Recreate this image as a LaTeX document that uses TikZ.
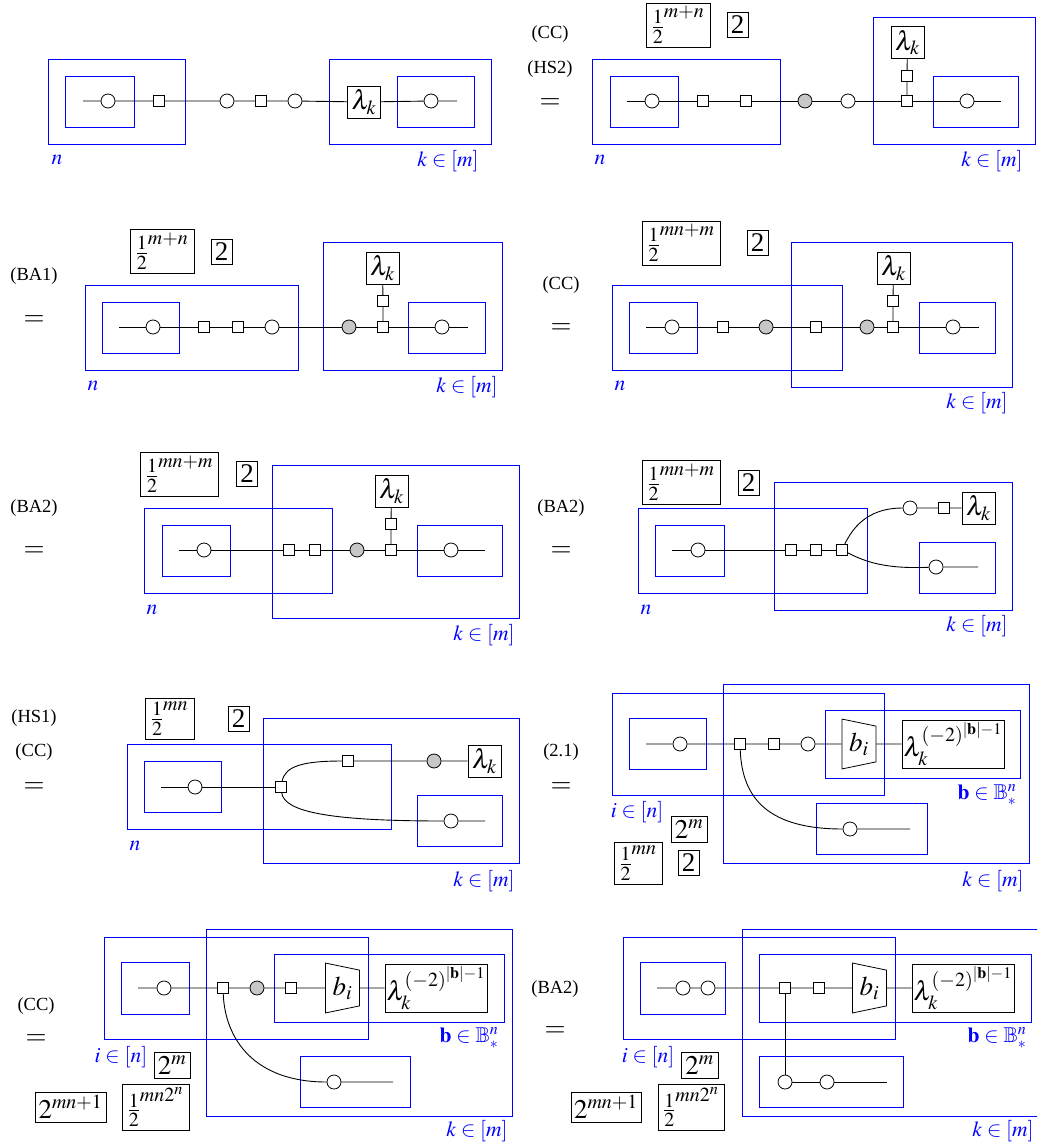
\documentclass[tikz,border=0pt]{standalone}
\usepackage{amsfonts,amssymb,amsmath}
\usepackage{mathptmx}
\usepackage{fontspec}
\setmainfont{Liberation Serif}
\usepackage{xcolor}
\usepackage{tikz}
\usetikzlibrary{shapes.geometric}
\tikzset{
plate/.style={draw=blue,line width=0.9pt},
wire/.style={draw=black,line width=0.9pt},
spider/.style={shape=circle,draw,fill=white,line width=0.8pt,minimum size=14pt,inner sep=0pt},
greyspider/.style={spider,fill=black!22},
tensor/.style={shape=rectangle,draw,fill=white,line width=0.8pt,minimum size=10.5pt,inner sep=0pt},
scalar/.style={shape=rectangle,draw,fill=white,line width=0.8pt,inner sep=0pt,font=\fontsize{27}{30}\selectfont},
lam/.style={scalar,minimum width=33pt,minimum height=32pt},
lamlong/.style={scalar,minimum width=102pt,minimum height=48pt},
two/.style={scalar,minimum width=21pt,minimum height=25pt},
gate/.style={shape=trapezium,draw,fill=white,line width=0.8pt,inner sep=0pt,trapezium stretches=true,
  trapezium angle=77,shape border rotate=270,minimum width=50pt,minimum height=34pt,font=\fontsize{27}{30}\selectfont},
bluetext/.style={text=blue,inner sep=0pt,font=\fontsize{21.5}{24}\selectfont},
rule/.style={inner sep=0pt,yshift=-1.5pt,font=\fontsize{18.5}{20}\selectfont},
eq/.style={inner sep=0pt,yshift=-3pt,font=\fontsize{27}{30}\selectfont}
}
\newcommand{\lamexp}{$\lambda_k^{(-2)^{|\mathbf{b}|-1}}$}
\begin{document}
\begin{tikzpicture}[x=1pt,y=-1pt]
\useasboundingbox(0,0)rectangle(1037,1147);
\clip(0,0)rectangle(1037,1147);
% first row
\draw[plate](48,59)rectangle(185,144);
\draw[plate](65,76)rectangle(134,127);
\draw[plate](329,59)rectangle(491,144);
\draw[plate](397,76)rectangle(474,127);
\coordinate(a0)at(83,101);
\coordinate(a9)at(457,101);
\path(108,101)node[spider](a1){}
(159,101)node[tensor](a2){}
(227,101)node[spider](a3){}
(261,101)node[tensor](a4){}
(295,101)node[spider](a5){}
(364,102)node[lam](a6){$\lambda_k$}
(431,101)node[spider](a7){}
(57,160)node[bluetext](an){$n$}
(448,161)node[bluetext](ak){$k\in[m]$};
\draw[wire](a0)--(a1)--(a2)--(a3)--(a4)--(a5)--(a6)--(a7)--(a9);

\draw[plate](592,59)rectangle(780,144);
\draw[plate](610,76)rectangle(678,127);
\draw[plate](873,17)rectangle(1035,144);
\draw[plate](933,76)rectangle(1018,127);
\coordinate(b0)at(627,101);
\coordinate(b9)at(1001,101);
\path(652,101)node[spider](b1){}
(703,101)node[tensor](b2){}
(746,101)node[tensor](b3){}
(805,101)node[greyspider](b4){}
(848,101)node[spider](b5){}
(907,101)node[tensor](b6){}
(967,101)node[spider](b7){}
(907,76)node[tensor](b8){}
(907.5,42.5)node[lam](bl){$\lambda_k$}
(678,25)node[scalar,minimum width=64pt,minimum height=44pt](bh){$\frac{1}{2}^{m+n}$}
(737.5,25)node[two](bt){2}
(550,33)node[rule](br1){(CC)}
(550,68)node[rule](br2){(HS2)}
(550,101)node[eq](be){$=$}
(600,160)node[bluetext](bn){$n$}
(992,161)node[bluetext](bk){$k\in[m]$};
\draw[wire](b0)--(b1)--(b2)--(b3)--(b4)--(b5)--(b6)--(b7)--(b9);
\draw[wire](b6)--(b8)--(bl);

% second row
\draw[plate](85,285)rectangle(298,370);
\draw[plate](102,302)rectangle(179,353);
\draw[plate](323,242)rectangle(502,370);
\draw[plate](408,302)rectangle(485,353);
\coordinate(c0)at(119,327);
\coordinate(c9)at(468,327);
\path(153,327)node[spider](c1){}
(204,327)node[tensor](c2){}
(238,327)node[tensor](c3){}
(272,327)node[spider](c4){}
(349,327)node[greyspider](c5){}
(383,327)node[tensor](c6){}
(442,327)node[spider](c7){}
(383,301)node[tensor](c8){}
(382.5,268)node[lam](cl){$\lambda_k$}
(162,251)node[scalar,minimum width=64pt,minimum height=44pt](ch){$\frac{1}{2}^{m+n}$}
(221.5,251.5)node[two](ct){2}
(34,275)node[rule](cr1){(BA1)}
(34,318)node[eq](ce){$=$}
(93,386)node[bluetext](cn){$n$}
(467,387)node[bluetext](ck){$k\in[m]$};
\draw[wire](c0)--(c1)--(c2)--(c3)--(c4)--(c5)--(c6)--(c7)--(c9);
\draw[wire](c6)--(c8)--(cl);

\draw[plate](612,285)rectangle(842,370);
\draw[plate](629,302)rectangle(697,353);
\draw[plate](791,242)rectangle(1012,387);
\draw[plate](919,302)rectangle(995,353);
\coordinate(d0)at(646,327);
\coordinate(d9)at(979,327);
\path(672,327)node[spider](d1){}
(723,327)node[tensor](d2){}
(766,327)node[greyspider](d3){}
(816,327)node[tensor](d4){}
(867,327)node[greyspider](d5){}
(893,327)node[tensor](d6){}
(953,327)node[spider](d7){}
(893,301)node[tensor](d8){}
(893.5,268)node[lam](dl){$\lambda_k$}
(681,243)node[scalar,minimum width=78pt,minimum height=44pt](dh){$\frac{1}{2}^{mn+m}$}
(757.5,242.5)node[two](dt){2}
(561,284)node[rule](dr1){(CC)}
(561,326)node[eq](de){$=$}
(620,386)node[bluetext](dn){$n$}
(977,403)node[bluetext](dk){$k\in[m]$};
\draw[wire](d0)--(d1)--(d2)--(d3)--(d4)--(d5)--(d6)--(d7)--(d9);
\draw[wire](d6)--(d8)--(dl);

% third row
\draw[plate](144,508)rectangle(332,593);
\draw[plate](162,525)rectangle(230,576);
\draw[plate](272,465)rectangle(519,618);
\draw[plate](417,525)rectangle(502,576);
\coordinate(e0)at(179,550);
\coordinate(e9)at(485,550);
\path(204,550)node[spider](e1){}
(289,550)node[tensor](e2){}
(315,550)node[tensor](e3){}
(357,550)node[greyspider](e4){}
(391,550)node[tensor](e5){}
(451,550)node[spider](e6){}
(391,524)node[tensor](e8){}
(391.5,491)node[lam](el){$\lambda_k$}
(179.5,474)node[scalar,minimum width=78pt,minimum height=44pt](eh){$\frac{1}{2}^{mn+m}$}
(247,473.5)node[two](et){2}
(34,507)node[rule](er1){(BA2)}
(34,549)node[eq](ee){$=$}
(152,610)node[bluetext](en){$n$}
(484,635)node[bluetext](ek){$k\in[m]$};
\draw[wire](e0)--(e1)--(e2)--(e3)--(e4)--(e5)--(e6)--(e9);
\draw[wire](e5)--(e8)--(el);

\draw[plate](638,508)rectangle(867,593);
\draw[plate](655,525)rectangle(724,576);
\draw[plate](774,482)rectangle(1012,610);
\draw[plate](919,542)rectangle(995,593);
\coordinate(f0)at(672,550);
\coordinate(f9)at(978,567);
\path(698,550)node[spider](f1){}
(791,550)node[tensor](f2){}
(816,550)node[tensor](f3){}
(842,550)node[tensor](f4){}
(910,508)node[spider](f5){}
(944,508)node[tensor](f6){}
(936,567)node[spider](f7){}
(978.5,508)node[lam](fl){$\lambda_k$}
(681,482)node[scalar,minimum width=78pt,minimum height=44pt](fh){$\frac{1}{2}^{mn+m}$}
(748.5,482.5)node[two](ft){2}
(561,507)node[rule](fr1){(BA2)}
(561,549)node[eq](fe){$=$}
(646,610)node[bluetext](fn){$n$}
(977,626)node[bluetext](fk){$k\in[m]$};
\draw[wire](f0)--(f1)--(f2)--(f3)--(f4);
\draw[wire](f4)..controls(858,516)and(880,508)..(f5)--(f6)--(fl);
\draw[wire](f4)..controls(866,562)and(885,569)..(f7)--(f9);

% fourth row
\draw[plate](127,744)rectangle(391,829);
\draw[plate](144,761)rectangle(221,812);
\draw[plate](263,718)rectangle(519,863);
\draw[plate](417,795)rectangle(502,846);
\coordinate(g0)at(161,787);
\coordinate(g9)at(485,821);
\path(195,787)node[spider](g1){}
(281,787)node[tensor](g2){}
(348,761)node[tensor](g3){}
(434,761)node[greyspider](g4){}
(451,821)node[spider](g5){}
(484.5,761)node[lam](gl){$\lambda_k$}
(169.5,718.5)node[scalar,minimum width=49pt,minimum height=41pt](gh){$\frac{1}{2}^{mn}$}
(238.5,718.5)node[two](gt){2}
(34,717)node[rule](gr1){(HS1)}
(34,751)node[rule](gr2){(CC)}
(34,785)node[eq](ge){$=$}
(135,846)node[bluetext](gn){$n$}
(484,881)node[bluetext](gk){$k\in[m]$};
\draw[wire](g0)--(g1)--(g2);
\draw[wire](g2)..controls(285,766)and(303,761)..(g3)--(g4)--(gl);
\draw[wire](g2)..controls(284,812)and(330,821)..(g5)--(g9);

\draw[plate](612,693)rectangle(884,795);
\draw[plate](629,718)rectangle(706,769);
\draw[plate](723,684)rectangle(1029,863);
\draw[plate](825,710)rectangle(1020,778);
\draw[plate](816,803)rectangle(927,854);
\coordinate(h0)at(646,744);
\coordinate(h9)at(910,829);
\path(680,744)node[spider](h1){}
(740,744)node[tensor](h2){}
(774,744)node[tensor](h3){}
(808,744)node[spider](h4){}
(859,744)node[gate](h5){$b_i$}
(953,744)node[lamlong](hl){\lamexp}
(850,829)node[spider](h6){}
(689,829)node[scalar,minimum width=36pt,minimum height=26pt](hm){$2^m$}
(638,863)node[scalar,minimum width=48pt,minimum height=42pt](hh){$\frac{1}{2}^{mn}$}
(688.5,863)node[two](ht){2}
(561,751)node[rule](hr1){(2.1)}
(561,785)node[eq](he){$=$}
(637,812)node[bluetext](hi){$i\in[n]$}
(987,795)node[bluetext](hb){$\mathbf{b}\in\mathbb{B}_*^n$}
(993,881)node[bluetext](hk){$k\in[m]$};
\draw[wire](h0)--(h1)--(h2)--(h3)--(h4)--(h5)--(hl);
\draw[wire](h2)..controls(742,800)and(770,829)..(h6)--(h9);

% last row
\draw[plate](104,937)rectangle(368,1039);
\draw[plate](121,962)rectangle(189,1014);
\draw[plate](206,929)rectangle(512,1116);
\draw[plate](274,954)rectangle(504,1022);
\draw[plate](300,1056)rectangle(410,1107);
\coordinate(j0)at(138,988);
\coordinate(j9)at(393,1082);
\path(164,988)node[spider](j1){}
(223,988)node[tensor](j2){}
(257,988)node[greyspider](j3){}
(291,988)node[tensor](j4){}
(342.5,988)node[gate](j5){$b_i$}
(436,988)node[lamlong](jl){\lamexp}
(334,1082)node[spider](j6){}
(172,1065)node[scalar,minimum width=36pt,minimum height=26pt](jm){$2^m$}
(70.5,1107)node[scalar,minimum width=71pt,minimum height=30pt](jp){$2^{mn+1}$}
(155.5,1107)node[scalar,minimum width=67pt,minimum height=46pt](jh){$\frac{1}{2}^{mn2^n}$}
(36,1005)node[rule](jr1){(CC)}
(36,1037)node[eq](je){$=$}
(121,1057)node[bluetext](ji){$i\in[n]$}
(469,1038)node[bluetext](jb){$\mathbf{b}\in\mathbb{B}_*^n$}
(477,1131)node[bluetext](jk){$k\in[m]$};
\draw[wire](j0)--(j1)--(j2)--(j3)--(j4)--(j5)--(jl);
\draw[wire](j2)..controls(225,1040)and(255,1082)..(j6)--(j9);

\draw[plate](623,937)rectangle(895,1039);
\draw[plate](640,962)rectangle(725,1014);
\draw[plate](742,929)rectangle(1050,1116);
\draw[plate](759,954)rectangle(1031,1022);
\draw[plate](759,1056)rectangle(903,1107);
\coordinate(k0)at(657,988);
\coordinate(k9)at(887,1082);
\path(683,988)node[spider](k1){}
(708,988)node[spider](k2){}
(785,988)node[tensor](k3){}
(819,988)node[tensor](k4){}
(869.5,988)node[gate](k5){$b_i$}
(963,988)node[lamlong](kl){\lamexp}
(785,1082)node[spider](k6){}
(827,1082)node[spider](k7){}
(699.5,1065)node[scalar,minimum width=37pt,minimum height=26pt](km){$2^m$}
(606,1107)node[scalar,minimum width=70pt,minimum height=30pt](kp){$2^{mn+1}$}
(691,1107)node[scalar,minimum width=66pt,minimum height=46pt](kh){$\frac{1}{2}^{mn2^n}$}
(555,988)node[rule](kr1){(BA2)}
(555,1029)node[eq](ke){$=$}
(648,1057)node[bluetext](ki){$i\in[n]$}
(997,1038)node[bluetext](kb){$\mathbf{b}\in\mathbb{B}_*^n$}
(1003,1131)node[bluetext](kk){$k\in[m]$};
\draw[wire](k0)--(k1)--(k2)--(k3)--(k4)--(k5)--(kl);
\draw[wire](k3)--(k6)--(k7)--(k9);
\end{tikzpicture}
\end{document}
